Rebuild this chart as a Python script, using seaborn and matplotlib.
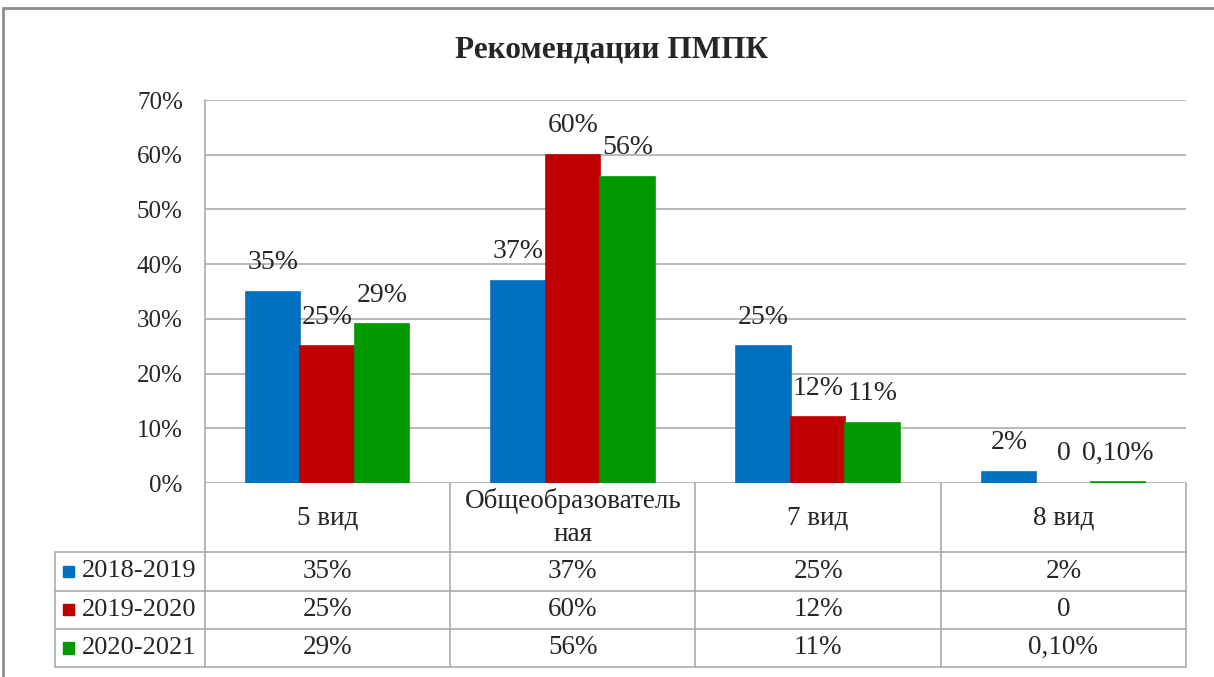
import pandas as pd
import matplotlib.pyplot as plt
import seaborn as sns
from matplotlib.patches import Rectangle

# --- Data ---
categories = ["5 вид", "Общеобразователь\nная", "7 вид", "8 вид"]
seasons = ["2018-2019", "2019-2020", "2020-2021"]
vals_2018 = [0.35, 0.37, 0.25, 0.02]
vals_2019 = [0.25, 0.60, 0.12, 0.0]
vals_2020 = [0.29, 0.56, 0.11, 0.001]
labels_2018 = ["35%", "37%", "25%", "2%"]
labels_2019 = ["25%", "60%", "12%", "0"]
labels_2020 = ["29%", "56%", "11%", "0,10%"]
yticks = [0, 0.1, 0.2, 0.3, 0.4, 0.5, 0.6, 0.7]
ytick_labels = ["0%", "10%", "20%", "30%", "40%", "50%", "60%", "70%"]
colors = ["#0070C0", "#C00000", "#009A00"]
title = "Рекомендации ПМПК"

all_labels = [labels_2018, labels_2019, labels_2020]

df = pd.DataFrame({
    "category": categories * 3,
    "season": [s for s in seasons for _ in categories],
    "value": vals_2018 + vals_2019 + vals_2020,
})

sns.set_style("white")
plt.rcParams["font.family"] = ["Liberation Serif", "DejaVu Serif"]

W, H = 1214, 677
fig = plt.figure(figsize=(W / 100, H / 100), dpi=100)


def px_axes(x0, y0, x1, y1):
    # pixel box (top-left origin) -> figure axes
    return fig.add_axes([x0 / W, 1 - y1 / H, (x1 - x0) / W, (y1 - y0) / H])


grid_c = "#A6A6A6"

# --- Bar chart ---
ax = px_axes(205, 100, 1186, 483)
sns.barplot(data=df, x="category", y="value", hue="season",
            palette=colors, width=0.667, gap=0, legend=False, ax=ax,
            saturation=1, order=categories, hue_order=seasons)
for p in ax.patches:
    p.set_edgecolor(p.get_facecolor())
    # thin edge so the tiny 0,10% bar still shows; none for empty bars
    p.set_linewidth(1.2 if p.get_height() > 0 else 0)

ax.set_xlim(-0.5, 3.5)
ax.set_ylim(0, 0.7)
ax.set_yticks(yticks)
ax.set_yticklabels(ytick_labels, fontsize=18)
ax.tick_params(axis="y", length=0, pad=16)
ax.set_xticks([])
ax.set_xlabel("")
ax.set_ylabel("")
ax.grid(axis="y", color=grid_c, linewidth=1.1)
ax.set_axisbelow(True)
for s in ["top", "right", "bottom"]:
    ax.spines[s].set_visible(False)
ax.spines["left"].set_color(grid_c)
ax.spines["left"].set_linewidth(1.1)

for cont, labs in zip(ax.containers, all_labels):
    ax.bar_label(cont, labels=labs, padding=12, fontsize=20)

# --- Data table ---
tx0 = -0.5 - 150 / 245.25
tab = px_axes(55, 483, 1186, 667)
tab.set_xlim(tx0, 3.5)
hdr_h = 69 / 38
tab.set_ylim(0, 3 + hdr_h)
tab.axis("off")

lw = 1.1
# horizontal lines
for y in [0, 1, 2, 3]:
    tab.plot([tx0, 3.5], [y, y], color=grid_c, lw=lw, clip_on=False)
# vertical lines
tab.plot([tx0, tx0], [0, 3], color=grid_c, lw=lw, clip_on=False)
for x in [-0.5, 0.5, 1.5, 2.5, 3.5]:
    tab.plot([x, x], [0, 3 + hdr_h], color=grid_c, lw=lw, clip_on=False)

for i, c in enumerate(categories):
    tab.text(i, 3 + hdr_h / 2, c, ha="center", va="center", fontsize=19.5,
             linespacing=1.45)

for r, (season, labs, col) in enumerate(zip(seasons, all_labels, colors)):
    yc = 3 - r - 0.5
    tab.add_patch(Rectangle((tx0 + 0.033, yc - 0.15), 0.045, 0.30,
                            color=col, clip_on=False))
    tab.text(tx0 + 0.11, yc, season, ha="left", va="center", fontsize=19)
    for i, lab in enumerate(labs):
        tab.text(i, yc, lab, ha="center", va="center", fontsize=19.5)

# --- Title and outer frame ---
fig.text(0.5 + 5 / W, 1 - 50 / H, title, ha="center", va="center",
         fontsize=22.5, fontweight="bold")
fig.patches.append(Rectangle((3 / W, -0.05), 1.2, 1 - 8 / H + 0.05,
                             transform=fig.transFigure, fill=False,
                             edgecolor="#8C8C8C", linewidth=2))

fig.savefig("out.png", dpi=100, facecolor="white")
